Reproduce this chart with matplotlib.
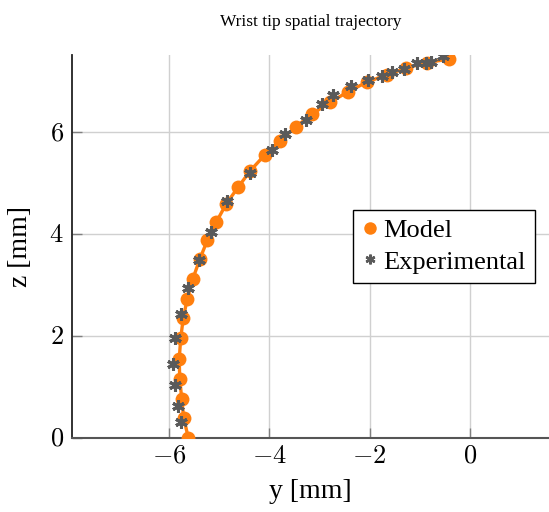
import numpy as np
import matplotlib
matplotlib.use("Agg")
import matplotlib.pyplot as plt
from matplotlib.lines import Line2D
from matplotlib.ticker import FuncFormatter

# data (mm)
model_y = [-5.62, -5.71, -5.75, -5.79, -5.80, -5.77, -5.72, -5.64, -5.53, -5.39,
           -5.24, -5.06, -4.86, -4.62, -4.38, -4.09, -3.79, -3.47, -3.15, -2.79,
           -2.43, -2.05, -1.66, -1.28, -0.86, -0.42]
model_z = [0.00, 0.38, 0.76, 1.15, 1.54, 1.95, 2.34, 2.72, 3.11, 3.50,
           3.87, 4.23, 4.59, 4.92, 5.24, 5.55, 5.83, 6.10, 6.35, 6.58,
           6.79, 6.98, 7.12, 7.25, 7.36, 7.43]

exp_y = [-5.77, -5.82, -5.89, -5.92, -5.89, -5.77, -5.63, -5.41, -5.17, -4.84,
         -4.38, -3.94, -3.68, -3.27, -2.95, -2.73, -2.37, -2.04, -1.76, -1.56,
         -1.31, -1.06, -0.88, -0.78, -0.54]
exp_z = [0.30, 0.62, 1.03, 1.44, 1.96, 2.42, 2.94, 3.49, 4.04, 4.65,
         5.19, 5.65, 5.96, 6.24, 6.55, 6.73, 6.91, 7.02, 7.10, 7.18,
         7.24, 7.35, 7.36, 7.37, 7.49]

x_ticks = [-6, -4, -2, 0]
y_ticks = [0, 2, 4, 6]

plt.rcParams['font.family'] = ['Liberation Serif', 'DejaVu Serif']
plt.rcParams['mathtext.fontset'] = 'cm'

orange = '#ff7f0e'
grey = '#5a5a5a'

fig = plt.figure(figsize=(5.49, 5.12), dpi=100)
ax = fig.add_axes([72 / 549, 74.5 / 512, 477 / 549, 382.5 / 512])

ax.plot(model_y, model_z, color=orange, lw=2.4, marker='o', ms=10,
        markeredgewidth=0, zorder=3)
ax.plot(exp_y, exp_z, ls='none', marker=(6, 2, 0), ms=9, color=grey,
        markeredgewidth=2.2, zorder=4)

ax.set_xlim(-7.94, 1.58)
ax.set_ylim(0, 7.51)
ax.set_xticks(x_ticks)
ax.set_yticks(y_ticks)
fmt = FuncFormatter(lambda v, p: '$%g$' % v)
ax.xaxis.set_major_formatter(fmt)
ax.yaxis.set_major_formatter(fmt)
ax.tick_params(direction='in', length=7, width=1, color='#808080',
               labelsize=19, pad=6)
ax.grid(True, color='#d0d0d0', lw=1)
ax.set_axisbelow(True)

for s in ['top', 'right']:
    ax.spines[s].set_visible(False)
ax.spines['left'].set_color('#222222')
ax.spines['left'].set_linewidth(1.3)
ax.spines['bottom'].set_color('#555555')
ax.spines['bottom'].set_linewidth(1.5)

ax.set_title('Wrist tip spatial trajectory', fontsize=12.5, pad=21)
ax.set_xlabel('y [mm]', fontsize=20, labelpad=8)
ax.set_ylabel('z [mm]', fontsize=20, labelpad=12)

handles = [Line2D([], [], ls='none', marker='o', ms=9, color=orange, markeredgewidth=0),
           Line2D([], [], ls='none', marker=(6, 2, 0), ms=7, color=grey, markeredgewidth=1.8)]
leg = ax.legend(handles, ['Model', 'Experimental'], loc='center right',
                bbox_to_anchor=(0.97, 0.5), fontsize=19, fancybox=False,
                framealpha=1, edgecolor='black', handlelength=0.6,
                handletextpad=0.2, borderpad=0.35, labelspacing=0.3,
                borderaxespad=0)
leg.get_frame().set_linewidth(1)

fig.savefig('out.png', dpi=100)
